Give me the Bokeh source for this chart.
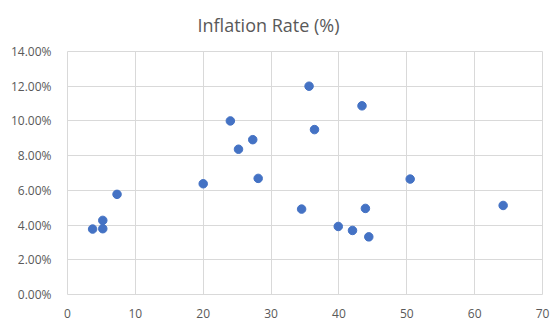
from bokeh.plotting import figure
from bokeh.models import Range1d, FixedTicker, NumeralTickFormatter
from bokeh.embed import file_html
from bokeh.resources import INLINE

# Observations: x value and inflation rate (fraction)
x_vals = [3.7, 5.2, 5.2, 7.3, 20.0, 24.0, 25.2, 27.3, 28.1,
          35.6, 43.4, 36.4, 50.5, 34.5, 43.9, 64.2, 39.9, 42.0, 44.4]
inflation = [0.0377, 0.0379, 0.0427, 0.0577, 0.0638, 0.1000, 0.0837, 0.0892, 0.0669,
             0.1200, 0.1087, 0.0950, 0.0665, 0.0492, 0.0496, 0.0513, 0.0392, 0.0369, 0.0332]

x_ticks = [0, 10, 20, 30, 40, 50, 60, 70]
y_ticks = [0.0, 0.02, 0.04, 0.06, 0.08, 0.10, 0.12, 0.14]

FONT = "Open Sans"
GRID = "#d9d9d9"
TEXT = "#595959"

p = figure(width=553, height=327, output_backend="svg", toolbar_location=None,
           x_range=Range1d(0, 70), y_range=Range1d(0, 0.14),
           title="Inflation Rate (%)",
           min_border_left=67, min_border_right=11, min_border_top=51, min_border_bottom=33)

p.title.align = "left"
p.title.offset = 130
p.title.vertical_align = "top"
p.title.standoff = 25
p.title.text_font = FONT
p.title.text_font_size = "18px"
p.title.text_font_style = "normal"
p.title.text_color = TEXT

p.outline_line_color = GRID
p.background_fill_color = "white"
p.border_fill_color = "white"

p.xaxis.ticker = FixedTicker(ticks=x_ticks)
p.yaxis.ticker = FixedTicker(ticks=y_ticks)
p.yaxis.formatter = NumeralTickFormatter(format="0.00%")

for ax in (p.xaxis[0], p.yaxis[0]):
    ax.axis_line_color = None
    ax.major_tick_line_color = None
    ax.minor_tick_line_color = None
    ax.major_label_text_font = FONT
    ax.major_label_text_font_size = "12px"
    ax.major_label_text_color = TEXT
p.yaxis.major_label_standoff = 10
p.xaxis.major_label_standoff = 8

p.xgrid.grid_line_color = GRID
p.ygrid.grid_line_color = GRID
p.xgrid.ticker = FixedTicker(ticks=x_ticks)
p.ygrid.ticker = FixedTicker(ticks=y_ticks)

p.scatter(x_vals, inflation, size=8.5, color="#4472C4", line_color="#4472C4")

open("out.html", "w").write(file_html(p, INLINE))
